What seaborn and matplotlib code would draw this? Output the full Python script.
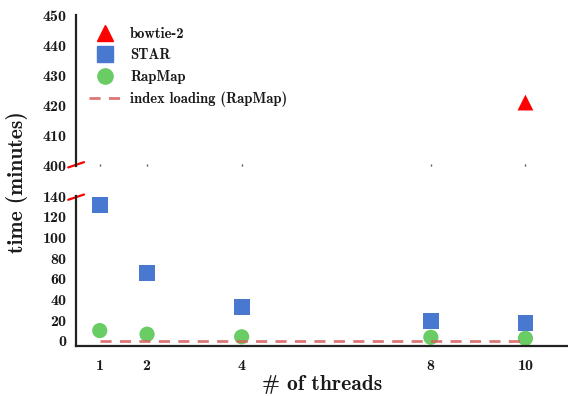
import matplotlib
matplotlib.use("Agg")
import matplotlib.pyplot as plt
from matplotlib.lines import Line2D
import pandas as pd
import seaborn as sns

# data
threads = [1, 2, 4, 8, 10]
star_time = [131, 66, 33, 19.5, 17]
rapmap_time = [10, 6.5, 4, 3.5, 2.5]
index_loading = [0.4, 0.4, 0.4, 0.4, 0.4]
bowtie_threads = [10]
bowtie_time = [421]

sns.set_style("white")
plt.rcParams['font.family'] = ['cmb10', 'DejaVu Serif']
plt.rcParams['axes.formatter.use_mathtext'] = True
plt.rcParams['text.color'] = "#1a1a1a"
plt.rcParams['xtick.color'] = "#1a1a1a"
plt.rcParams['ytick.color'] = "#1a1a1a"

blue = "#4878d0"
green = "#6acc64"
red_dash = "#d65f5f"

df_star = pd.DataFrame({"threads": threads, "time": star_time})
df_rap = pd.DataFrame({"threads": threads, "time": rapmap_time})
df_idx = pd.DataFrame({"threads": threads, "time": index_loading})
df_bow = pd.DataFrame({"threads": bowtie_threads, "time": bowtie_time})

fig = plt.figure(figsize=(5.68, 3.96), dpi=100)
ax_top = fig.add_axes([0.134, 0.581, 0.866, 0.381])
ax_bot = fig.add_axes([0.134, 0.126, 0.866, 0.379])

for ax in (ax_top, ax_bot):
    sns.lineplot(data=df_idx, x="threads", y="time", ax=ax, color=red_dash,
                 linestyle=(0, (4, 3)), linewidth=2, alpha=0.85)
    sns.scatterplot(data=df_star, x="threads", y="time", ax=ax, marker="s",
                    s=130, color=blue, edgecolor="none")
    sns.scatterplot(data=df_rap, x="threads", y="time", ax=ax, marker="o",
                    s=120, color=green, edgecolor="none")
    sns.scatterplot(data=df_bow, x="threads", y="time", ax=ax, marker="^",
                    s=130, color="red", edgecolor="none")
    ax.set_xlim(0.5, 10.9)
    ax.set_xticks(threads)
    ax.set_xlabel("")
    ax.set_ylabel("")
    ax.spines["top"].set_visible(False)
    ax.spines["right"].set_visible(False)
    ax.spines["left"].set_linewidth(1.6)
    ax.spines["left"].set_color("#222222")

ax_top.set_ylim(400, 450)
ax_top.set_yticks([400, 410, 420, 430, 440, 450])
ax_top.spines["bottom"].set_visible(False)
ax_top.tick_params(axis="x", bottom=True, length=1.2, width=1, color="#555555",
                   direction="in", labelbottom=False)
ax_top.tick_params(axis="y", length=0, labelsize=11.5, pad=6)

ax_bot.set_ylim(-5, 140)
ax_bot.set_yticks([0, 20, 40, 60, 80, 100, 120, 140])
ax_bot.spines["bottom"].set_linewidth(1.6)
ax_bot.spines["bottom"].set_color("#222222")
ax_bot.tick_params(axis="both", length=0, labelsize=11.5, pad=6)
ax_bot.tick_params(axis="x", pad=9)

# broken axis marks
d = 0.016
kw = dict(color="red", clip_on=False, linewidth=1.6)
ax_top.plot((-d, d), (-0.01, 0.025), transform=ax_top.transAxes, **kw)
ax_bot.plot((-d, d), (0.975, 1.01), transform=ax_bot.transAxes, **kw)

handles = [
    Line2D([], [], marker="^", color="red", linestyle="none", markersize=11),
    Line2D([], [], marker="s", color=blue, linestyle="none", markersize=11),
    Line2D([], [], marker="o", color=green, linestyle="none", markersize=11),
    Line2D([], [], color=red_dash, linestyle=(0, (4, 3)), linewidth=2, alpha=0.85),
]
labels = ["bowtie-2", "STAR", "RapMap", "index loading (RapMap)"]
ax_top.legend(handles, labels, loc="upper left", bbox_to_anchor=(0.0, 1.01),
              frameon=False, fontsize=10.5, handlelength=2.2, labelspacing=0.52,
              handletextpad=0.6)

fig.text(0.03, 0.54, "time (minutes)", rotation=90, ha="center", va="center",
         fontsize=15.5)
fig.text(0.567, 0.03, "# of threads", ha="center", va="center", fontsize=15.5)

fig.savefig("out.png", dpi=100)
